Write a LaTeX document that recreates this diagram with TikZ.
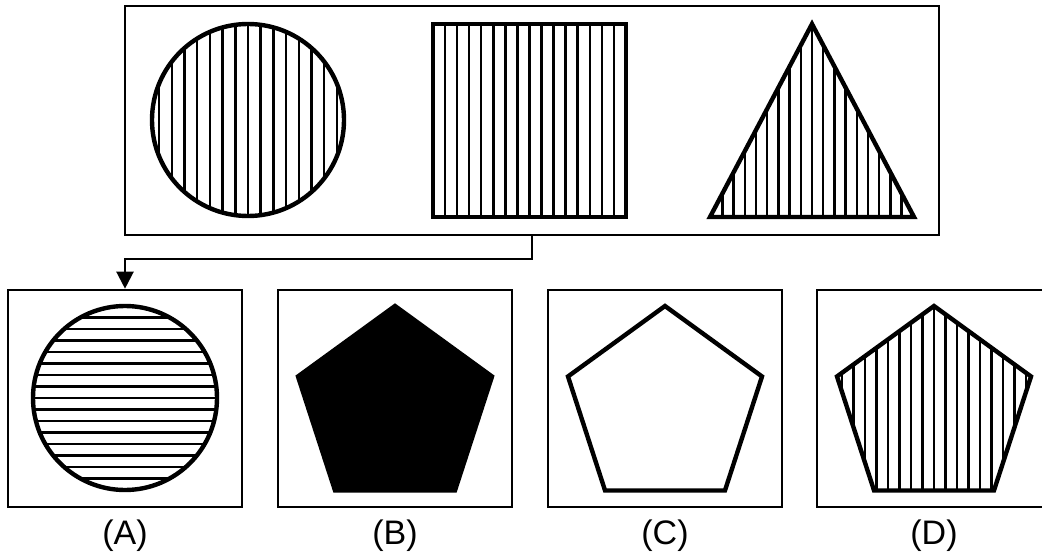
\documentclass[tikz,border=0pt]{standalone}
\usepackage{fontspec}
\setmainfont{Liberation Sans}
\usetikzlibrary{arrows.meta,positioning,calc}
\newcommand{\pentpath}[1]{(#1) +(-90:102) -- +(-18:102) -- +(54:102) -- +(126:102) -- +(198:102) -- cycle}

\begin{document}
\begin{tikzpicture}[x=1pt,y=-1pt,>={Triangle[width=17pt,length=17pt]},
  frame/.style={draw,line width=2.6pt,inner sep=0pt,minimum width=234pt,minimum height=217pt},
  outline/.style={line width=4.4pt,line join=miter},
  stripe/.style={line width=2.5pt},
  lab/.style={font=\fontsize{34}{40}\selectfont,inner sep=3pt}]
\clip (0,0) rectangle (1042,559);
% question panel
\node[draw,line width=2.6pt,inner sep=0pt,minimum width=814pt,minimum height=229pt] (panel) at (532,120.5) {};
\coordinate (circ) at (248,120);
\coordinate (apex) at (812,24);
\begin{scope}
  \clip (circ) circle (96);
  \foreach \i in {-7,...,7} \draw[stripe] ({248+12.7*\i},20) -- ++(0,200);
\end{scope}
\draw[outline] (circ) circle (96);
\foreach \i in {1,...,15} \draw[stripe] ({433+12.06*\i},24) -- ++(0,193);
\draw[outline] (433,24) rectangle (626,217);
\begin{scope}
  \clip (apex) -- (914,217) -- (710,217) -- cycle;
  \foreach \i in {-8,...,8} \draw[stripe] ({812+11.2*\i},20) -- ++(0,200);
\end{scope}
\draw[outline] (apex) -- (914,217) -- (710,217) -- cycle;
% answer options
\node[frame] (optA) at (125,398.5) {};
\node[frame] (optB) at (395,398.5) {};
\node[frame] (optC) at (665,398.5) {};
\node[frame] (optD) at (934,398.5) {};
\node[lab,below=8pt of optA] (labA) {(A)};
\node[lab,below=8pt of optB] (labB) {(B)};
\node[lab,below=8pt of optC] (labC) {(C)};
\node[lab,below=8pt of optD] (labD) {(D)};
\draw[->,line width=2.2pt] (panel.south) -- ++(0,23) -| (optA.north);
% (A) striped circle
\coordinate (cA) at (125,398);
\begin{scope}
  \clip (cA) circle (92);
  \foreach \i in {-7,...,7} \draw[stripe] (30,{398+11.5*\i}) -- ++(190,0);
\end{scope}
\draw[outline] (cA) circle (92);
% (B) (C) (D) pentagons
\coordinate (cB) at (395,408);
\coordinate (cC) at (665,408);
\coordinate (cD) at (934,408);
\fill[draw,outline] \pentpath{cB};
\draw[outline] \pentpath{cC};
\begin{scope}
  \clip \pentpath{cD};
  \foreach \i in {-8,...,8} \draw[stripe] ({934+11.5*\i},300) -- ++(0,200);
\end{scope}
\draw[outline] \pentpath{cD};
\end{tikzpicture}
\end{document}
